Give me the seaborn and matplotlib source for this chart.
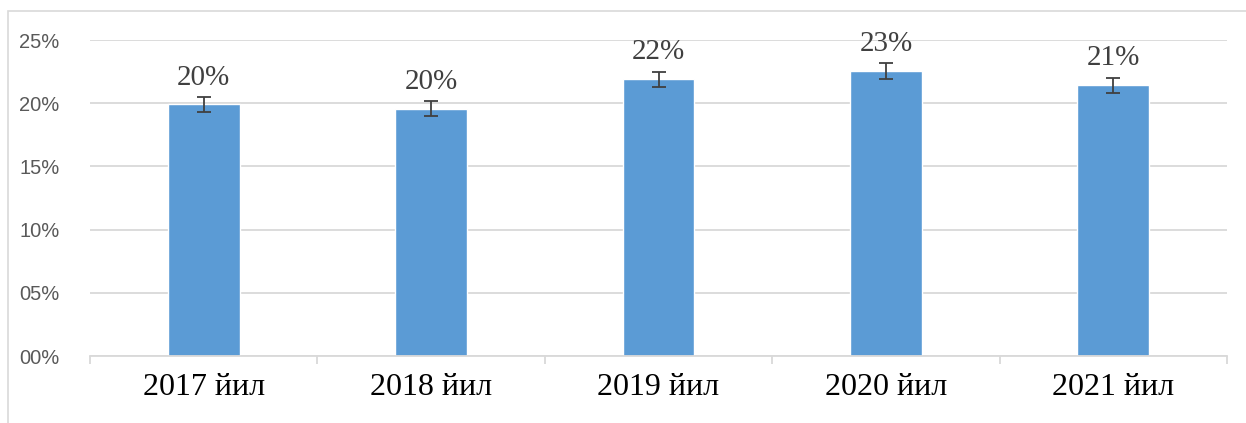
import numpy as np
import matplotlib
matplotlib.use("Agg")
import matplotlib.pyplot as plt
import seaborn as sns
import pandas as pd
from matplotlib.patches import Rectangle
from matplotlib.ticker import FixedLocator

# data
years = ["2017 йил", "2018 йил", "2019 йил", "2020 йил", "2021 йил"]
shares = [0.1990, 0.1955, 0.2190, 0.2255, 0.2142]
errors = [0.006, 0.006, 0.006, 0.006, 0.006]
y_ticks = [0.0, 0.05, 0.10, 0.15, 0.20, 0.25]

BAR = "#5B9BD5"
GRID = "#D9D9D9"

sns.set_style("white")
plt.rcParams["font.family"] = ["Liberation Sans", "DejaVu Sans"]

df = pd.DataFrame({"year": years, "share": shares})

fig = plt.figure(figsize=(12.46, 4.23), dpi=100)
ax = fig.add_axes([90 / 1246, 1 - 356 / 423, (1227 - 90) / 1246, (356 - 40) / 423])

sns.barplot(data=df, x="year", y="share", color=BAR, width=0.316,
            saturation=1, errorbar=None, ax=ax, zorder=2)
ax.errorbar(range(len(years)), shares, yerr=errors, fmt="none",
            ecolor="#404040", elinewidth=1.3, capsize=5, capthick=1.3, zorder=3)

for i, v in enumerate(shares):
    ax.annotate(f"{v * 100:.0f}%", (i, v), xytext=(0, 10), textcoords="offset points",
                ha="center", va="bottom", fontsize=21, color="#404040",
                family=["Liberation Serif", "DejaVu Serif"])

ax.set_ylim(0, 0.25)
ax.set_xlim(-0.5, len(years) - 0.5)
ax.set_yticks(y_ticks)
ax.set_yticklabels([f"{int(round(t * 100)):02d}%" for t in y_ticks],
                   fontsize=14.5, color="#595959")
ax.yaxis.grid(True, color=GRID, linewidth=1.3, zorder=0)
ax.set_axisbelow(True)

ax.set_xlabel("")
ax.set_ylabel("")
for lab in ax.get_xticklabels():
    lab.set_family(["Liberation Serif", "DejaVu Serif"])
    lab.set_fontsize(23)
    lab.set_color("black")

ax.tick_params(axis="x", which="major", bottom=True, length=0, pad=12)
ax.tick_params(axis="y", which="major", length=0, pad=22)
ax.xaxis.set_minor_locator(FixedLocator(np.arange(-0.5, len(years), 1.0)))
ax.tick_params(axis="x", which="minor", bottom=True, length=6, width=1.3,
               color=GRID, direction="out")

for side in ["top", "right", "left"]:
    ax.spines[side].set_visible(False)
ax.spines["bottom"].set_color(GRID)
ax.spines["bottom"].set_linewidth(1.3)

# chart-area frame, cut off at right and bottom
fig.patches.append(Rectangle((8 / 1246, -0.1), 1.2, 1 - 11 / 423 + 0.1,
                             transform=fig.transFigure, fill=False,
                             edgecolor=GRID, linewidth=1.2))

fig.savefig("out.png", dpi=100, facecolor="white")
